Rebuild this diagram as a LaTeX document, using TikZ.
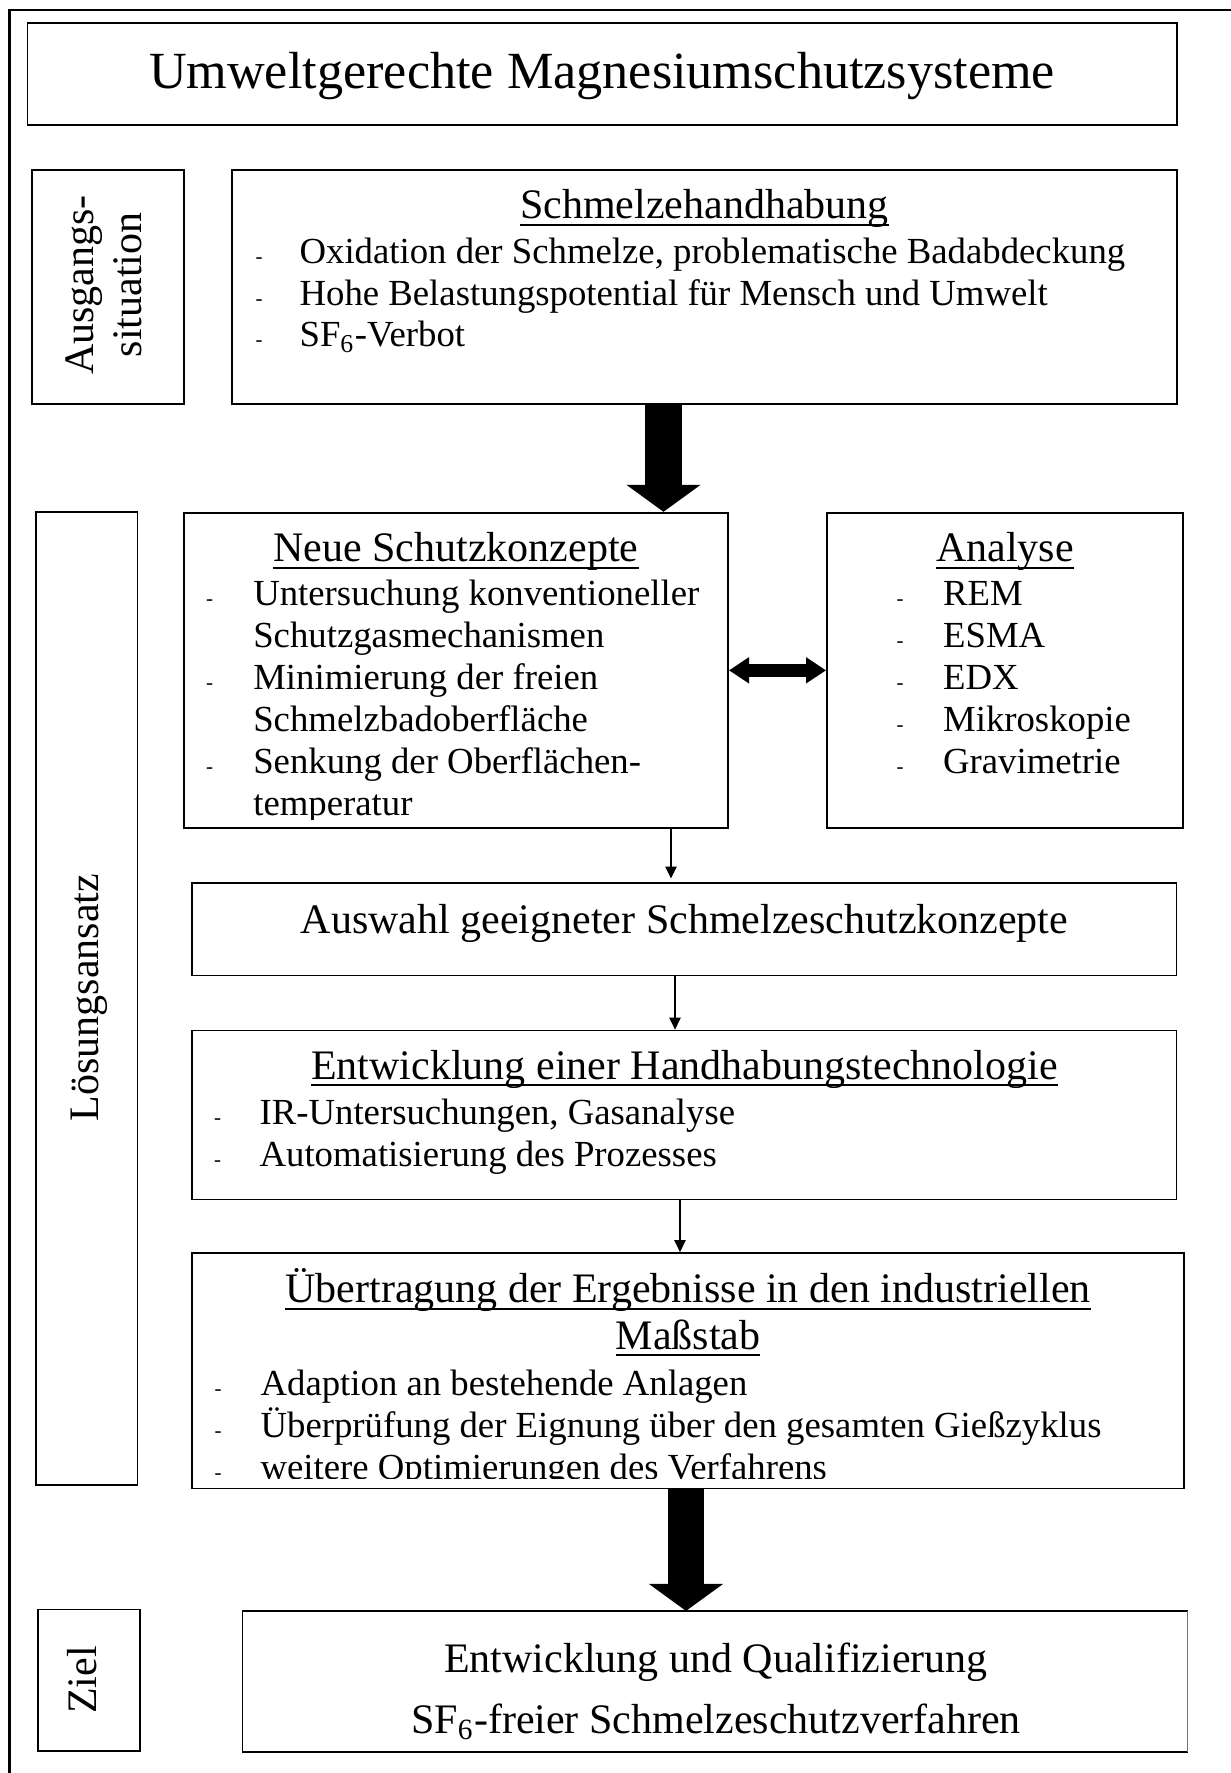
\documentclass[tikz,border=0pt]{standalone}
\usepackage{fontspec}
\setmainfont{Liberation Serif}
\usetikzlibrary{fit,arrows.meta}
\newcommand\ulh[1]{\setbox0\hbox{#1}\rlap{\rule[-2.45pt]{\wd0}{0.65pt}}\box0}
\begin{document}
\begin{tikzpicture}[x=0.333333pt,y=-0.333333pt,
  box/.style={draw, line width=0.6pt, inner sep=0pt},
  ttl/.style={font=\fontsize{17.4}{21}\selectfont, inner sep=0pt, anchor=base},
  hd/.style={font=\fontsize{14}{16}\selectfont, inner sep=0pt, anchor=base},
  itm/.style={font=\fontsize{12.25}{14}\selectfont, inner sep=0pt, anchor=base west},
  dsh/.style={font=\fontsize{7}{8}\selectfont, inner sep=0pt, anchor=base west},
  side/.style={font=\fontsize{14}{16}\selectfont, inner sep=0pt, rotate=90, align=center},
  thinarrow/.style={line width=0.45pt, -{Triangle[length=4pt,width=3.8pt]}},
  bigarrow/.style={line width=12.3pt, -{Triangle[length=9pt,width=24.3pt]}},
]
\useasboundingbox (0,0) rectangle (1231,1773);
% outer frame (cut off at right and bottom)
\draw[line width=0.8pt] (9.5,1790) -- (9.5,10) -- (1250,10);

% title
\node[box, fit={(27.5,23) (1177,125)}] (title) {};
\node[ttl] (titletext) at (602,88.3) {Umweltgerechte Magnesiumschutzsysteme};

% Ausgangssituation
\node[box, fit={(32,170) (184,404)}] (ausg) {};
\node[side] (ausgtext) at (104,285) {Ausgangs-\\situation};
\node[box, fit={(232,170) (1177,404)}] (schm) {};
\node[hd] (schmh) at (704.5,219) {\ulh{Schmelzehandhabung}};
\node[dsh] (sd1) at (255,264) {-};
\node[dsh] (sd2) at (255,306) {-};
\node[dsh] (sd3) at (255,347) {-};
\node[itm] (si1) at (299,264) {Oxidation der Schmelze, problematische Badabdeckung};
\node[itm] (si2) at (299,306) {Hohe Belastungspotential für Mensch und Umwelt};
\node[itm] (si3) at (299,347) {SF\textsubscript{6}-Verbot};

% Loesungsansatz
\node[box, fit={(36,512) (137.5,1485)}] (loes) {};
\node[side, anchor=base] (loestext) at (98,997.5) {Lösungsansatz};

\node[box, fit={(184,512.7) (728,828)}] (neue) {};
\begin{scope}
\clip (184,512.7) rectangle (728,819);
\node[hd] (neueh) at (456,561.7) {\ulh{Neue Schutzkonzepte}};
\node[dsh] (nd1) at (205.6,605) {-};
\node[dsh] (nd2) at (205.6,689) {-};
\node[dsh] (nd3) at (205.6,773) {-};
\node[itm] (ni1) at (252.7,605) {Untersuchung konventioneller};
\node[itm] (ni2) at (252.7,647) {Schutzgasmechanismen};
\node[itm] (ni3) at (252.7,689) {Minimierung der freien};
\node[itm] (ni4) at (252.7,731) {Schmelzbadoberfläche};
\node[itm] (ni5) at (252.7,773) {Senkung der Oberflächen-};
\node[itm] (ni6) at (252.7,815) {temperatur};
\end{scope}

\node[box, fit={(827,512.7) (1183,828)}] (anal) {};
\node[hd] (analh) at (1005,561.7) {\ulh{Analyse}};
\node[dsh] (ad1) at (896,605) {-};
\node[dsh] (ad2) at (896,647) {-};
\node[dsh] (ad3) at (896,689) {-};
\node[dsh] (ad4) at (896,731) {-};
\node[dsh] (ad5) at (896,773) {-};
\node[itm] (ai1) at (942.5,605) {REM};
\node[itm] (ai2) at (942.5,647) {ESMA};
\node[itm] (ai3) at (942.5,689) {EDX};
\node[itm] (ai4) at (942.5,731) {Mikroskopie};
\node[itm] (ai5) at (942.5,773) {Gravimetrie};

\node[box, fit={(192,883) (1176.5,975.5)}] (ausw) {};
\node[hd] (auswt) at (684.5,933.5) {Auswahl geeigneter Schmelzeschutzkonzepte};

\node[box, fit={(192,1030.5) (1176.5,1199.5)}] (entw) {};
\node[hd] (entwh) at (684.5,1079) {\ulh{Entwicklung einer Handhabungstechnologie}};
\node[dsh] (ed1) at (213.5,1124.5) {-};
\node[dsh] (ed2) at (213.5,1166) {-};
\node[itm] (ei1) at (259,1124.5) {IR-Untersuchungen, Gasanalyse};
\node[itm] (ei2) at (259,1166) {Automatisierung des Prozesses};

\node[box, fit={(192,1253) (1184,1488.5)}] (ueb) {};
\begin{scope}
\clip (192,1253) rectangle (1184,1478);
\node[hd] (uebh1) at (688,1302.5) {\ulh{Übertragung der Ergebnisse in den industriellen}};
\node[hd] (uebh2) at (688,1349) {\ulh{Maßstab}};
\node[dsh] (ud1) at (214,1395) {-};
\node[dsh] (ud2) at (214,1437) {-};
\node[dsh] (ud3) at (214,1479) {-};
\node[itm] (ui1) at (260,1395) {Adaption an bestehende Anlagen};
\node[itm] (ui2) at (260,1437) {Überprüfung der Eignung über den gesamten Gießzyklus};
\node[itm] (ui3) at (260,1479) {weitere Optimierungen des Verfahrens};
\end{scope}

% Ziel
\node[box, fit={(38,1609.5) (140,1751)}] (ziel) {};
\node[side, anchor=base] (zieltext) at (96,1680) {Ziel};
\node[inner sep=0pt, fit={(243,1611.5) (1187,1751.5)}] (fin) {};
\draw[line width=0.6pt] (fin.north east) -- (fin.north west) -- (fin.south west) -- (fin.south east);
\draw[line width=0.35pt, black!55] (fin.north east) -- (fin.south east);
\node[hd] (fint1) at (716,1672) {Entwicklung und Qualifizierung};
\node[hd] (fint2) at (716,1733) {SF\textsubscript{6}-freier Schmelzeschutzverfahren};

% connectors
\coordinate (c1) at (663.5,0);
\coordinate (c2) at (686,0);
\coordinate (c3) at (671,0);
\coordinate (c4) at (675,0);
\coordinate (c5) at (680,0);
\draw[bigarrow] (schm.south -| c1) -- (neue.north -| c1);
\draw[line width=4.3pt, {Triangle[length=6.7pt,width=8.3pt]}-{Triangle[length=6.7pt,width=8.3pt]}] (neue.east) -- (anal.west);
\draw[thinarrow] (neue.south -| c3) -- ([yshift=1.2pt]ausw.north -| c3);
\draw[thinarrow] (ausw.south -| c4) -- (entw.north -| c4);
\draw[thinarrow] (entw.south -| c5) -- (ueb.north -| c5);
\draw[bigarrow] (ueb.south -| c2) -- (fin.north -| c2);
\end{tikzpicture}
\end{document}
